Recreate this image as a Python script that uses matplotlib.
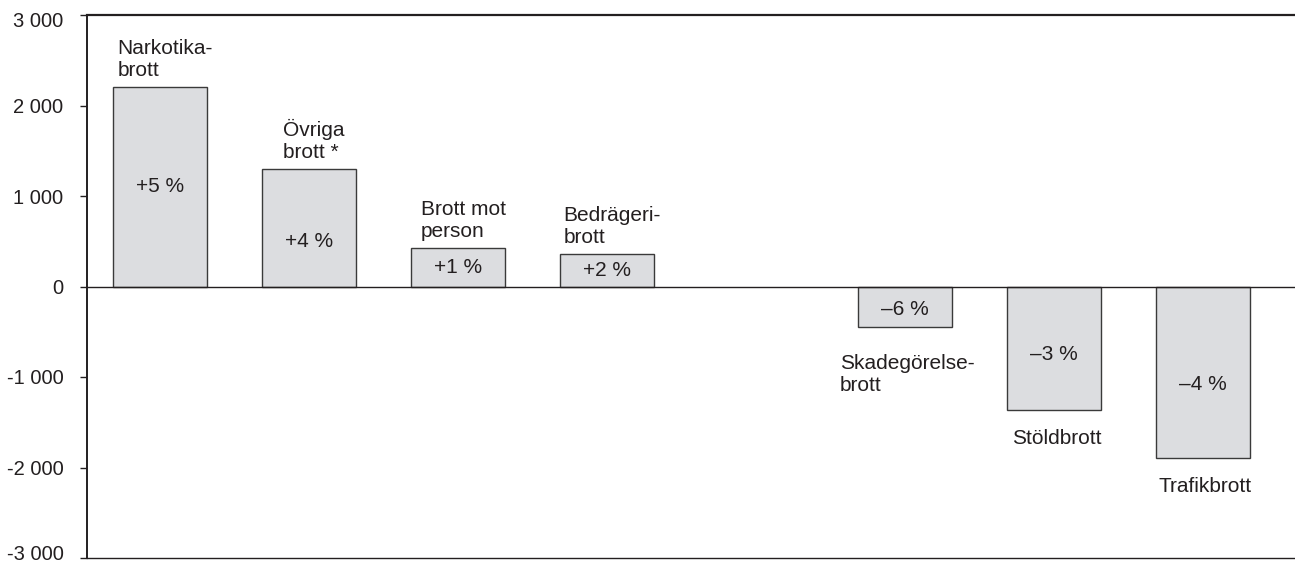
import matplotlib
matplotlib.use('Agg')
import matplotlib.pyplot as plt
import matplotlib.transforms as mtransforms
from matplotlib.ticker import FuncFormatter

# data
categories = ["Narkotika-\nbrott", "Övriga\nbrott *", "Brott mot\nperson", "Bedrägeri-\nbrott",
              "", "Skadegörelse-\nbrott", "Stöldbrott", "Trafikbrott"]
changes = [2200, 1300, 420, 360, 0, -450, -1370, -1900]
pct_labels = ["+5 %", "+4 %", "+1 %", "+2 %", "", "–6 %", "–3 %", "–4 %"]
yticks = [-3000, -2000, -1000, 0, 1000, 2000, 3000]

# label placement (styling, not data)
pct_frac = [0.5, 0.38, 0.5, 0.5, 0.5, 0.57, 0.55, 0.57]
label_gap = [8, 8, 8, 8, 0, 19, 13, 13]

plt.rcParams['font.family'] = ['Liberation Sans', 'DejaVu Sans']
plt.rcParams['font.size'] = 15
text_color = "#231f20"

fig = plt.figure(figsize=(12.95, 5.64), dpi=100)
ax = fig.add_axes([87 / 1295, 1 - 558 / 564, 1 - 87 / 1295, (558 - 15) / 564])

for i, v in enumerate(changes):
    if categories[i] == "":
        continue
    ax.bar(i, v, width=0.63, color="#dcdde0", edgecolor="#3a3a3a", linewidth=1.0, zorder=2)
    ax.text(i, v * pct_frac[i], pct_labels[i], ha="center", va="center", color=text_color, zorder=3)
    if v > 0:
        ax.annotate(categories[i], (i, v), xytext=(4, label_gap[i]), textcoords="offset points",
                    ha="center", va="baseline", multialignment="left", color=text_color,
                    linespacing=1.2)
    else:
        ax.annotate(categories[i], (i, v), xytext=(2, -label_gap[i]), textcoords="offset points",
                    ha="center", va="top", multialignment="left", color=text_color,
                    linespacing=1.2)

ax.axhline(0, color="#231f20", linewidth=1.0, zorder=3)

ax.set_xlim(-0.487, 7.62)
ax.set_ylim(-3000, 3000)
ax.set_yticks(yticks)
ax.yaxis.set_major_formatter(FuncFormatter(lambda v, p: "{:,}".format(int(v)).replace(",", " ")))
ax.set_xticks([])
ax.tick_params(axis="y", length=5, width=1.0, pad=12, colors=text_color,
               labelcolor=text_color, labelsize=14.5)

# end labels sit a little inside the axis range, as in the source
fig.canvas.draw()
labels = ax.get_yticklabels()
labels[0].set_transform(labels[0].get_transform() +
                        mtransforms.ScaledTranslation(0, 4 / 72, fig.dpi_scale_trans))
labels[-1].set_transform(labels[-1].get_transform() +
                         mtransforms.ScaledTranslation(0, -3 / 72, fig.dpi_scale_trans))

ax.spines["right"].set_visible(False)
ax.spines["top"].set_linewidth(1.6)
ax.spines["left"].set_linewidth(1.4)
ax.spines["bottom"].set_linewidth(1.0)
for side in ["top", "left", "bottom"]:
    ax.spines[side].set_color(text_color)

fig.savefig("out.png", dpi=100)
